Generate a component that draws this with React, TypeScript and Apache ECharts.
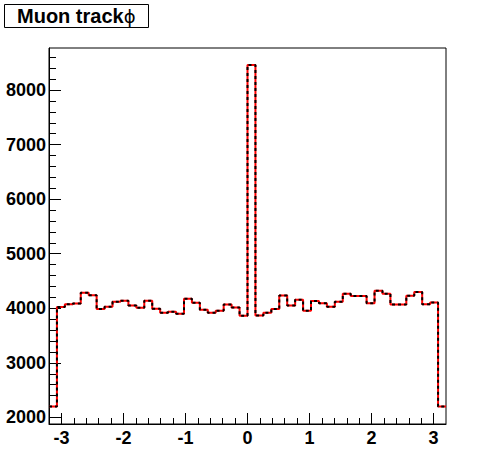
import React, { useEffect, useRef } from "react";
import * as echarts from "echarts";

// Histogram: Muon track phi, 50 bins from -3.2 to 3.2
const xMin = -3.2;
const xMax = 3.2;
const binValues = [
  2200, 4025, 4073, 4090, 4285, 4240, 3987, 4030, 4118, 4140,
  4052, 4008, 4140, 3993, 3920, 3935, 3901, 4176, 4103, 3972,
  3920, 3956, 4070, 4015, 3865, 8458, 3870, 3920, 3987, 4235,
  4052, 4155, 3956, 4134, 4094, 4030, 4121, 4265, 4226, 4226,
  4094, 4322, 4265, 4070, 4070, 4231, 4300, 4073, 4106, 2200,
];
const yMin = 1880;
const yMax = 8770;
const xTickLabels = [-3, -2, -1, 0, 1, 2, 3];
const yTickLabels = [2000, 3000, 4000, 5000, 6000, 7000, 8000];
const xMinorStep = 0.2;
const yMinorStep = 200;

export default function App() {
  const ref = useRef<HTMLDivElement>(null);
  useEffect(() => {
    if (!ref.current) return;
    const chart = echarts.init(ref.current, null, { renderer: "svg" });
    const binWidth = (xMax - xMin) / binValues.length;
    const stepData: number[][] = binValues.map((v, i) => [
      Math.round((xMin + i * binWidth) * 1e6) / 1e6,
      v,
    ]);
    stepData.push([xMax, binValues[binValues.length - 1]]);

    const xMinor: number[] = [];
    for (let k = Math.ceil(xMin / xMinorStep); k * xMinorStep <= xMax + 1e-9; k++) {
      const v = Math.round(k * xMinorStep * 1e6) / 1e6;
      if (Math.abs(v - Math.round(v)) > 1e-6 && v > xMin && v < xMax) xMinor.push(v);
    }
    const yMinor: number[] = [];
    for (let k = Math.ceil(yMin / yMinorStep); k * yMinorStep <= yMax; k++) {
      const v = k * yMinorStep;
      if (v % 1000 !== 0) yMinor.push(v);
    }

    const labelFont = {
      fontFamily: "Liberation Sans, Arial, sans-serif",
      fontWeight: "bold" as const,
      fontSize: 18,
      color: "#000",
      formatter: (v: number) => String(v),
    };

    chart.setOption({
      animation: false,
      backgroundColor: "#fff",
      grid: {
        left: 49,
        top: 48,
        width: 397,
        height: 376,
        show: true,
        borderColor: "#000",
        borderWidth: 1,
        backgroundColor: "transparent",
      },
      graphic: [
        {
          type: "rect",
          shape: { x: 4.5, y: 4.5, width: 144, height: 23 },
          style: { fill: "#fff", stroke: "#000", lineWidth: 1 },
          z: 10,
        },
        {
          type: "text",
          x: 17,
          y: 16,
          z: 11,
          style: {
            text: "{b|Muon track}{p|ϕ}",
            verticalAlign: "middle",
            rich: {
              b: {
                fontFamily: "Liberation Sans, Arial, sans-serif",
                fontWeight: "bold",
                fontSize: 20,
                fill: "#000",
              },
              p: {
                fontFamily: "DejaVu Sans, sans-serif",
                fontWeight: "normal",
                fontSize: 18,
                fill: "#000",
              },
            },
          },
        },
      ],
      xAxis: [
        {
          type: "value",
          min: xMin,
          max: xMax,
          axisLine: { show: true, onZero: false, lineStyle: { color: "#000", width: 1 } },
          axisTick: {
            show: true,
            inside: true,
            length: 11,
            customValues: xTickLabels,
            lineStyle: { color: "#000", width: 1 },
          },
          axisLabel: { ...labelFont, margin: 5, customValues: xTickLabels },
          splitLine: { show: false },
        },
        {
          type: "value",
          min: xMin,
          max: xMax,
          position: "bottom",
          axisLine: { show: false, onZero: false },
          axisTick: {
            show: true,
            inside: true,
            length: 6,
            customValues: xMinor,
            lineStyle: { color: "#000", width: 1 },
          },
          axisLabel: { show: false },
          splitLine: { show: false },
        },
      ],
      yAxis: [
        {
          type: "value",
          min: yMin,
          max: yMax,
          position: "left",
          axisLine: { show: true, onZero: false, lineStyle: { color: "#000", width: 1 } },
          axisTick: {
            show: true,
            inside: true,
            length: 12,
            customValues: yTickLabels,
            lineStyle: { color: "#000", width: 1 },
          },
          axisLabel: { ...labelFont, margin: 3, customValues: yTickLabels },
          splitLine: { show: false },
        },
        {
          type: "value",
          min: yMin,
          max: yMax,
          position: "left",
          axisLine: { show: false, onZero: false },
          axisTick: {
            show: true,
            inside: true,
            length: 7,
            customValues: yMinor,
            lineStyle: { color: "#000", width: 1 },
          },
          axisLabel: { show: false },
          splitLine: { show: false },
        },
      ],
      series: [
        {
          type: "line",
          step: "end",
          data: stepData,
          showSymbol: false,
          symbol: "none",
          lineStyle: { color: "#ff0000", width: 2, type: "solid" },
          z: 3,
        },
        {
          type: "line",
          step: "end",
          data: stepData,
          showSymbol: false,
          symbol: "none",
          lineStyle: { color: "#000", width: 2, type: [3, 3] },
          z: 4,
        },
      ],
    });
    return () => chart.dispose();
  }, []);
  return (
    <div
      ref={ref}
      style={{ position: "absolute", left: 0, top: 0, width: 496, height: 472 }}
    />
  );
}
